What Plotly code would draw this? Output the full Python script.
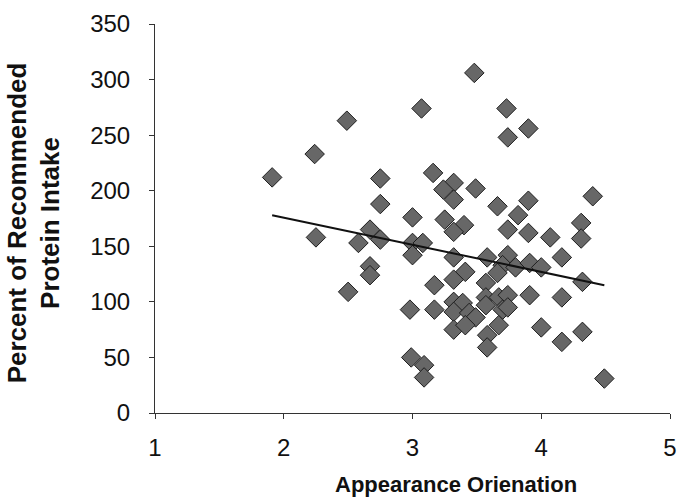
import plotly.graph_objects as go

# Appearance orientation score vs. percent of recommended protein intake
appearance = [
    1.91, 2.24, 2.49, 2.75, 2.75, 2.25, 2.58, 2.67, 2.75,
    2.50, 2.67, 2.67, 2.98, 2.99,
    3.48, 3.07, 3.73, 3.74, 3.90, 3.16, 3.32, 3.24, 3.32, 3.49,
    3.66, 3.90, 4.40, 3.00, 3.25, 3.40, 3.32, 3.82, 3.74, 3.90,
    4.07, 4.31, 4.31, 3.00, 3.08,
    3.00, 3.32, 3.58, 3.74, 4.16, 3.70, 3.80, 3.91, 4.00, 3.66,
    3.41, 3.32, 3.17, 3.57, 4.32, 3.91, 4.16, 3.57, 3.67, 3.74,
    3.32, 3.39, 3.17, 3.32, 3.44, 3.57, 3.70, 3.74, 3.49, 3.32,
    3.41, 3.67, 3.58, 3.58, 4.00, 4.16, 4.32, 3.09, 3.09, 4.49,
]
protein_pct = [
    212, 233, 263, 211, 188, 158, 153, 165, 156,
    109, 132, 124, 93, 50,
    306, 274, 274, 248, 256, 216, 207, 201, 192, 202,
    186, 191, 195, 176, 174, 169, 163, 178, 165, 162,
    158, 171, 157, 153, 153,
    142, 140, 140, 142, 140, 133, 131, 135, 131, 126,
    127, 120, 115, 117, 118, 106, 104, 104, 104, 106,
    100, 99, 93, 91, 90, 97, 93, 95, 86, 75,
    79, 79, 70, 59, 77, 64, 73, 43, 32, 31,
]

# Linear trend line endpoints
trend_x = [1.91, 4.49]
trend_y = [178, 115]

x_ticks = [1, 2, 3, 4, 5]
y_ticks = [0, 50, 100, 150, 200, 250, 300, 350]

fig = go.Figure()

fig.add_trace(go.Scatter(
    x=appearance, y=protein_pct, mode="markers",
    marker=dict(symbol="diamond", size=15, color="#676767",
                line=dict(color="#1e1e1e", width=1)),
    showlegend=False, hoverinfo="x+y",
))

fig.add_trace(go.Scatter(
    x=trend_x, y=trend_y, mode="lines",
    line=dict(color="#111111", width=2),
    showlegend=False, hoverinfo="skip",
))

family = "Liberation Sans, Arial, sans-serif"
axis_font = dict(family=family, size=24, color="#111111")

fig.update_layout(
    width=686, height=501,
    margin=dict(l=155, r=9, t=24, b=88),
    paper_bgcolor="white", plot_bgcolor="white",
    xaxis=dict(
        range=[1, 5], tickvals=x_ticks, ticktext=[str(v) for v in x_ticks],
        showgrid=False, zeroline=False, showline=True, linecolor="#333333", linewidth=1,
        ticks="outside", ticklen=5, tickcolor="#333333", tickfont=axis_font,
        ticklabelstandoff=8,
    ),
    yaxis=dict(
        range=[0, 350], tickvals=y_ticks, ticktext=[str(v) for v in y_ticks],
        showgrid=False, zeroline=False, showline=True, linecolor="#333333", linewidth=1,
        ticks="outside", ticklen=5, tickcolor="#333333", tickfont=axis_font,
        ticklabelstandoff=14,
    ),
    annotations=[
        dict(text="<b>Appearance Orienation</b>", xref="paper", yref="paper",
             x=0.585, y=-0.185, xanchor="center", yanchor="middle", showarrow=False,
             font=dict(family=family, size=22, color="#111111")),
        dict(text="<b>Percent of Recommended<br>Protein Intake</b>", xref="paper", yref="paper",
             x=-0.235, y=0.49, xanchor="center", yanchor="middle", showarrow=False,
             textangle=-90,
             font=dict(family=family, size=26, color="#111111")),
    ],
)

fig.write_html("out.html")
